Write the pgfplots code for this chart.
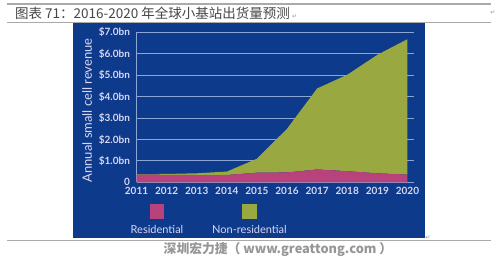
\documentclass[border=0pt]{standalone}
\usepackage{pgfplots}
\usepackage{pgfplotstable}
\pgfplotsset{compat=1.18}
\usepackage{fontspec}
\setmainfont{Lato}
\newfontfamily\cjk{Noto Sans CJK SC}
\newfontfamily\cjklight{Noto Sans CJK SC Light}
\newfontfamily\sym{DejaVu Sans}

\definecolor{panel}{RGB}{14,58,140}
\definecolor{resid}{RGB}{184,66,124}
\definecolor{nonres}{RGB}{154,168,66}
\definecolor{gridc}{RGB}{140,165,215}
\definecolor{lab}{RGB}{215,215,240}
\definecolor{rule}{RGB}{170,170,170}
\definecolor{titlec}{RGB}{70,70,70}
\definecolor{footc}{RGB}{150,150,150}

% annual revenue, $bn
\pgfplotstableread{
year res nonres
2011 0.36 0.02
2012 0.35 0.04
2013 0.34 0.08
2014 0.34 0.16
2015 0.45 0.65
2016 0.46 2.04
2017 0.60 3.78
2018 0.52 4.50
2019 0.42 5.53
2020 0.36 6.32
}\revenue

\begin{document}
\begin{tikzpicture}[x=1pt,y=1pt]
\path[use as bounding box] (0,0) rectangle (503,259);
% page rules and caption
\draw[rule, line width=1.1pt] (7,255) -- (491,255);
\draw[rule, line width=0.9pt] (7,236.5) -- (491,236.5);
\draw[rule, line width=0.9pt] (7,19) -- (491,19);
\node[anchor=west, inner sep=0, text=titlec, font=\cjk\fontsize{13.5}{14}\selectfont] at (15,246)
  {图表 71：2016-2020 年全球小基站出货量预测\,{\sym\fontsize{6}{6}\selectfont\color{footc}↵}};
\node[inner sep=0, text=footc, font=\sym\fontsize{6}{6}\selectfont] at (493,246) {↵};
\node[inner sep=0, text=footc, font=\sym\fontsize{6}{6}\selectfont] at (428,21) {↵};
\node[inner sep=0, text=footc, font=\cjk\bfseries\fontsize{12.8}{13}\selectfont] at (278,10)
  {深圳宏力捷（ www.greattong.com ）};
% chart panel
\fill[panel] (73,21) rectangle (425,236);
\begin{axis}[
  at={(136.5pt,76.7pt)}, anchor=south west,
  scale only axis, width=277pt, height=150pt,
  xmin=2011, xmax=2020.2, ymin=0, ymax=7,
  axis x line*=bottom, axis y line*=left,
  axis line style={gridc, line width=0.9pt, -},
  xtick={2011,...,2020},
  xticklabels={2011,2012,2013,2014,2015,2016,2017,2018,2019,2020},
  ytick={0,1,...,7},
  yticklabels={0,\$1.0bn,\$2.0bn,\$3.0bn,\$4.0bn,\$5.0bn,\$6.0bn,\$7.0bn},
  major tick length=0pt,
  ymajorgrids, grid style={gridc, line width=0.9pt},
  tick label style={text=lab, font=\bfseries\fontsize{10}{10}\selectfont},
  xticklabel style={yshift=-1.5pt},
  yticklabel style={xshift=-3pt},
  ylabel={Annual small cell revenue},
  ylabel style={text=lab, font=\fontsize{13}{13}\selectfont},
  every axis y label/.append style={at={(ticklabel cs:0.5)}, xshift=-3pt},
  stack plots=y,
  clip=false,
]
\addplot[fill=resid, draw=none] table[x=year, y=res] \revenue \closedcycle;
\addplot[fill=nonres, draw=none] table[x=year, y=nonres] \revenue \closedcycle;
\end{axis}
% legend
\fill[resid] (150,40) rectangle (164,55);
\fill[nonres] (242,40) rectangle (257,55);
\node[text=lab, font=\fontsize{11}{11}\selectfont] at (157,30) {Residential};
\node[text=lab, font=\fontsize{11}{11}\selectfont] at (249.5,30) {Non-residential};
\end{tikzpicture}
\end{document}
